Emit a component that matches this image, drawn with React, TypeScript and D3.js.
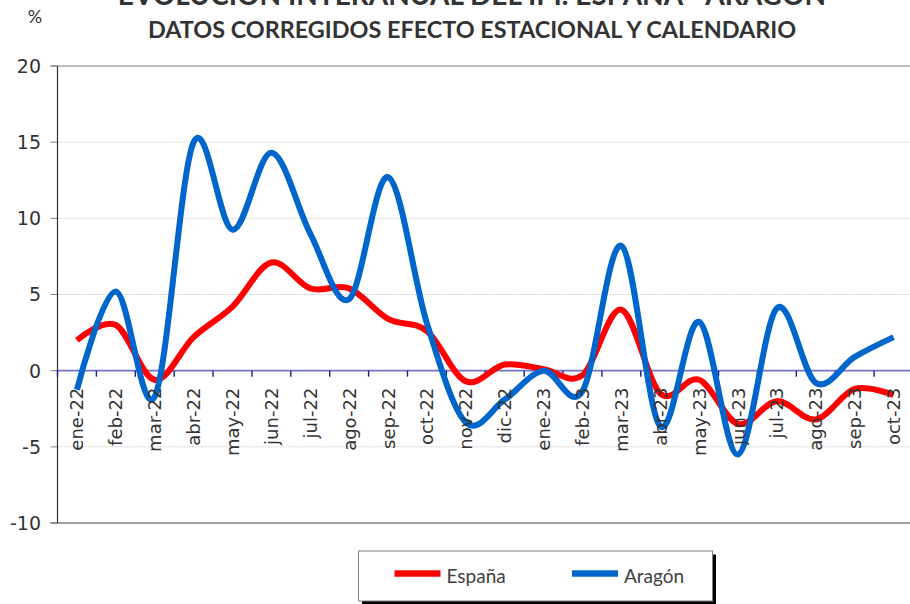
import React from 'react';
import * as d3 from 'd3';

const months = [
  'ene-22', 'feb-22', 'mar-22', 'abr-22', 'may-22', 'jun-22', 'jul-22', 'ago-22',
  'sep-22', 'oct-22', 'nov-22', 'dic-22', 'ene-23', 'feb-23', 'mar-23', 'abr-23',
  'may-23', 'jun-23', 'jul-23', 'ago-23', 'sep-23', 'oct-23',
];
const espana = [
  2.0, 3.0, -0.6, 2.2, 4.2, 7.1, 5.4, 5.4, 3.4, 2.6, -0.7, 0.4,
  0.1, -0.3, 4.0, -1.5, -0.6, -3.5, -2.0, -3.2, -1.2, -1.6,
];
const aragon = [
  -1.25, 5.2, -1.7, 15.0, 9.25, 14.3, 9.0, 4.7, 12.7, 3.1, -3.4, -1.9,
  0.0, -1.35, 8.2, -3.65, 3.2, -5.5, 4.1, -0.8, 0.9, 2.2,
];
const yTicks = [20, 15, 10, 5, 0, -5, -10];

const W = 910;
const H = 604;
const left = 57.5;
const right = 913;
const top = 66;
const bottom = 523;

const App = () => {
  const x = d3.scaleBand<string>().domain(months).range([left, right]);
  const y = d3.scaleLinear().domain([-10, 20]).range([bottom, top]);
  const cx = (m: string) => (x(m) as number) + x.bandwidth() / 2;

  const line = d3
    .line<number>()
    .x((_, i) => cx(months[i]))
    .y(d => y(d))
    .curve(d3.curveCardinal.tension(0));

  const series = [
    { name: 'España', values: espana, color: '#ff0000' },
    { name: 'Aragón', values: aragon, color: '#0066cc' },
  ];

  const legendX = 358.5;
  const legendY = 551;

  return (
    <svg width={W} height={H} style={{ position: 'absolute', left: 0, top: 0 }}>
      <rect width={W} height={H} fill="#fff" />

      <text x={472} y={5} textAnchor="middle" fontFamily="Lato" fontWeight="bold" fontSize={28} fill="#333">
        EVOLUCIÓN INTERANUAL DEL IPI. ESPAÑA - ARAGÓN
      </text>
      <text x={472} y={38} textAnchor="middle" fontFamily="Lato" fontWeight="bold" fontSize={23.4} fill="#333">
        DATOS CORREGIDOS EFECTO ESTACIONAL Y CALENDARIO
      </text>
      <text x={35} y={23} textAnchor="middle" fontFamily="Lato" fontSize={18} fill="#333">%</text>

      {yTicks.filter(t => t !== 20 && t !== -10 && t !== 0).map(t => (
        <line key={t} x1={left} x2={W} y1={y(t)} y2={y(t)} stroke="#d4d4d4" strokeDasharray="2,1" />
      ))}
      <line x1={left - 7} x2={W} y1={y(20)} y2={y(20)} stroke="#808080" strokeWidth={1.2} />
      <line x1={left - 7} x2={W} y1={y(-10)} y2={y(-10)} stroke="#404040" strokeWidth={1} />
      {yTicks.map(t => (
        <g key={t}>
          <line x1={left - 7} x2={left} y1={y(t)} y2={y(t)} stroke="#808080" />
          <text x={41} y={y(t)} dy="0.36em" textAnchor="end" fontFamily="DejaVu Sans" fontSize={19} fill="#333">
            {t}
          </text>
        </g>
      ))}
      <line x1={left} x2={left} y1={top} y2={bottom} stroke="#333" strokeWidth={1.2} />

      <line x1={left} x2={W} y1={y(0)} y2={y(0)} stroke="#7474c4" strokeWidth={1.6} />
      {months.map(m => (
        <line key={m} x1={x(m)} x2={x(m)} y1={y(0)} y2={y(0) + 6} stroke="#1a1a8c" strokeWidth={1.4} />
      ))}

      {series.map(s => (
        <path key={s.name} d={line(s.values) || ''} fill="none" stroke={s.color} strokeWidth={6} strokeLinejoin="round" />
      ))}

      {months.map(m => (
        <text
          key={m}
          transform={`translate(${cx(m)},${y(0) + 17}) rotate(-90)`}
          textAnchor="end"
          dominantBaseline="central"
          fontFamily="DejaVu Sans"
          fontSize={18}
          fill="#333"
        >
          {m}
        </text>
      ))}

      <rect x={legendX + 3.5} y={legendY + 3.5} width={354} height={50} fill="#000" />
      <rect x={legendX} y={legendY} width={354} height={50} fill="#fff" stroke="#808080" />
      {series.map((s, i) => (
        <g key={s.name} transform={`translate(${legendX + 36 + i * 177.5},${legendY + 22.5})`}>
          <line x1={0} x2={46} y1={0} y2={0} stroke={s.color} strokeWidth={6.5} />
          <text x={52} y={9} fontFamily="Lato" fontSize={19} fill="#404040">{s.name}</text>
        </g>
      ))}
    </svg>
  );
};

export default App;
